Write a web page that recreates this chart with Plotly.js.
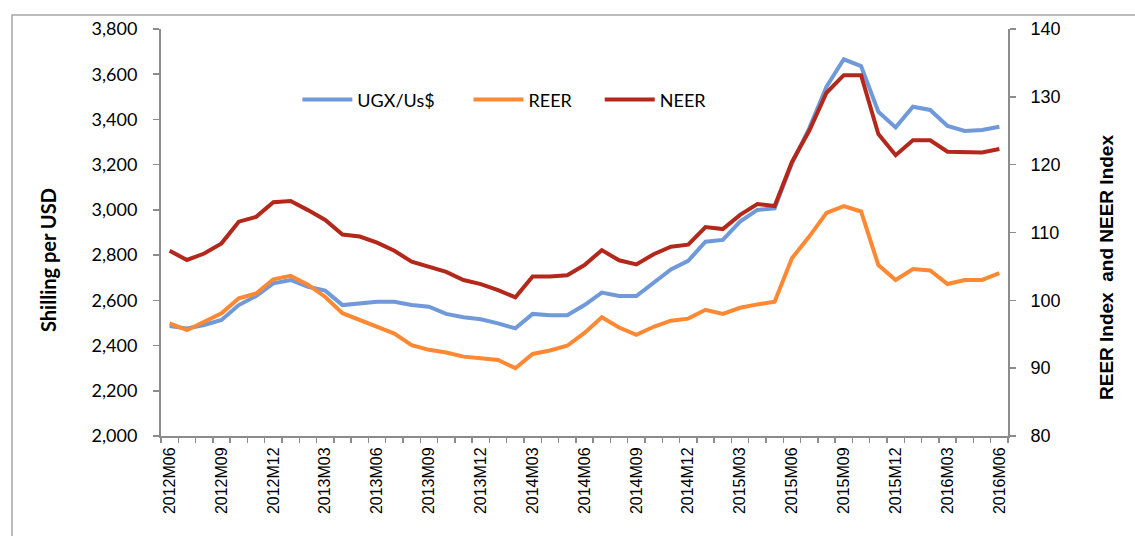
<!DOCTYPE html>
<html>
<head>
<meta charset="utf-8">
<script src="https://cdn.plot.ly/plotly-3.0.1.min.js"></script>
<style>html,body{margin:0;padding:0;background:#fff;}#chart{width:1135px;height:536px;}</style>
</head>
<body>
<div id="chart"></div>
<script>
const months = ["2012M06","2012M07","2012M08","2012M09","2012M10","2012M11","2012M12",
"2013M01","2013M02","2013M03","2013M04","2013M05","2013M06","2013M07","2013M08","2013M09","2013M10","2013M11","2013M12",
"2014M01","2014M02","2014M03","2014M04","2014M05","2014M06","2014M07","2014M08","2014M09","2014M10","2014M11","2014M12",
"2015M01","2015M02","2015M03","2015M04","2015M05","2015M06","2015M07","2015M08","2015M09","2015M10","2015M11","2015M12",
"2016M01","2016M02","2016M03","2016M04","2016M05","2016M06"];

const ugxPerUsd = [2486,2476,2491,2513,2579,2619,2675,2690,2660,2643,
2579,2587,2594,2594,2579,2572,2540,2525,2516,2498,
2476,2540,2534,2534,2579,2634,2619,2619,2678,2737,
2775,2859,2867,2948,3000,3007,3206,3361,3545,3666,
3636,3434,3365,3456,3442,3371,3349,3353,3368];

const reer = [96.6,95.6,96.85,98.1,100.3,101.0,103.1,103.6,102.3,100.5,
98.1,97.1,96.1,95.1,93.4,92.7,92.3,91.7,91.45,91.2,
90.0,92.1,92.6,93.3,95.2,97.5,96.0,94.9,96.1,97.0,
97.3,98.6,98.0,98.9,99.4,99.8,106.2,109.4,112.9,113.9,
113.1,105.2,103.0,104.6,104.4,102.4,103.0,103.0,104.0];

const neer = [107.3,105.95,106.9,108.4,111.6,112.3,114.45,114.65,113.3,111.85,
109.7,109.4,108.5,107.3,105.7,104.9,104.2,103.0,102.4,101.5,
100.45,103.5,103.5,103.7,105.2,107.4,105.9,105.3,106.8,107.9,
108.2,110.8,110.5,112.6,114.2,113.9,120.4,125.0,130.6,133.2,
133.2,124.5,121.4,123.6,123.6,121.9,121.9,121.8,122.3];

const seriesNames = ["UGX/Us$","REER","NEER"];
const colors = ["#7099DA","#FF8833","#B3281A"];

const xIdx = months.map((m,i)=>i);
const tickIdx = xIdx.filter(i => i % 3 === 0);
const tickLabels = tickIdx.map(i => months[i]);

const traces = [
  {x:xIdx, y:ugxPerUsd, name:seriesNames[0], type:"scatter", mode:"lines",
   line:{color:colors[0], width:4}, yaxis:"y", legend:"legend"},
  {x:xIdx, y:reer, name:seriesNames[1], type:"scatter", mode:"lines",
   line:{color:colors[1], width:4}, yaxis:"y2", legend:"legend2"},
  {x:xIdx, y:neer, name:seriesNames[2], type:"scatter", mode:"lines",
   line:{color:colors[2], width:4}, yaxis:"y2", legend:"legend3"}
];

const legFont = {family:"Lato, 'Open Sans', sans-serif", size:18, color:"#000"};
const legBase = {orientation:"h", yanchor:"middle", xanchor:"left", font:legFont, bgcolor:"rgba(0,0,0,0)", borderwidth:0, itemwidth:50};

const layout = {
  width:1135, height:536,
  margin:{l:161, r:127, t:29, b:100},
  paper_bgcolor:"#fff", plot_bgcolor:"#fff",
  showlegend:true,
  legend:Object.assign({x:0.161, y:0.826}, legBase),
  legend2:Object.assign({x:0.363, y:0.826}, legBase),
  legend3:Object.assign({x:0.518, y:0.826}, legBase),
  xaxis:{
    range:[-0.5, 48.5], tickmode:"array", tickvals:tickIdx, ticktext:tickLabels,
    tickangle:-90, ticks:"", showgrid:false, zeroline:false,
    showline:true, linecolor:"#8c8c8c", linewidth:2, ticklabelstandoff:3,
    tickfont:{family:"'Liberation Sans', Arial, sans-serif", size:16, color:"#000"},
    minor:{tickmode:"linear", tick0:-0.5, dtick:1, ticks:"outside", ticklen:5, tickcolor:"#8c8c8c", tickwidth:1.5, showgrid:false}
  },
  yaxis:{
    range:[2000,3800], dtick:200, tickformat:",", showgrid:false, zeroline:false,
    showline:true, linecolor:"#8c8c8c", linewidth:2,
    ticks:"outside", ticklen:6, tickcolor:"#8c8c8c", tickwidth:1.5, ticklabelstandoff:12,
    tickfont:{family:"Lato, 'Open Sans', sans-serif", size:18, color:"#000"}
  },
  yaxis2:{
    range:[80,140], dtick:10, overlaying:"y", side:"right", showgrid:false, zeroline:false,
    showline:true, linecolor:"#8c8c8c", linewidth:2,
    ticks:"outside", ticklen:6, tickcolor:"#8c8c8c", tickwidth:1.5, ticklabelstandoff:11,
    tickfont:{family:"'Liberation Sans', Arial, sans-serif", size:18, color:"#000"}
  },
  annotations:[
    {text:"<b>Shilling per USD</b>", xref:"paper", yref:"paper", x:(48-161)/847, y:(436-260)/407,
     xanchor:"center", yanchor:"middle", textangle:-90, showarrow:false,
     font:{family:"Lato, 'Open Sans', sans-serif", size:20, color:"#000"}},
    {text:"<b>REER Index  and NEER Index</b>", xref:"paper", yref:"paper", x:(1106-161)/847, y:(436-268)/407,
     xanchor:"center", yanchor:"middle", textangle:-90, showarrow:false,
     font:{family:"'Liberation Sans', Arial, sans-serif", size:19, color:"#000"}}
  ],
  shapes:[
    {type:"rect", xref:"paper", yref:"paper", x0:(12-161)/847, x1:(1145-161)/847, y0:(436-546)/407, y1:(436-15)/407,
     line:{color:"#a6a6a6", width:1.5}, fillcolor:"rgba(0,0,0,0)", layer:"below"}
  ]
};

Plotly.newPlot("chart", traces, layout, {staticPlot:true, displayModeBar:false});
</script>
</body>
</html>
